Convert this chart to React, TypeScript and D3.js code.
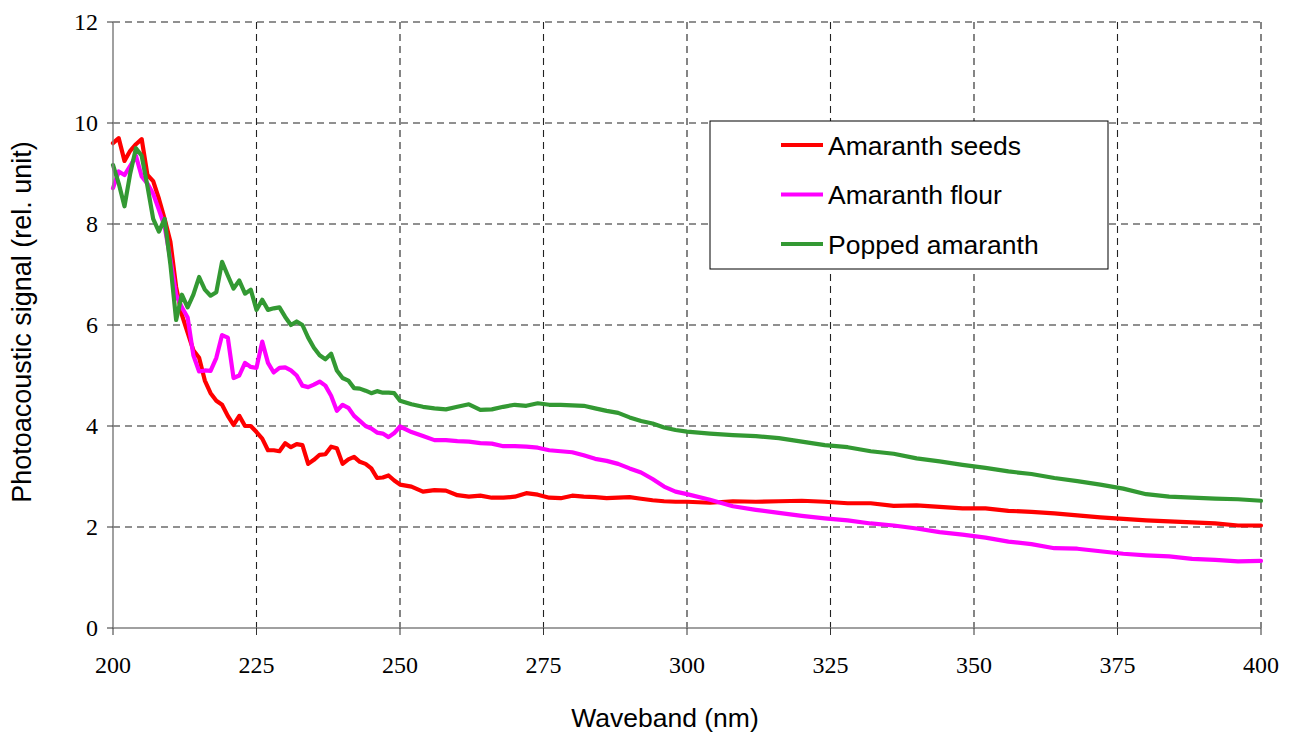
import React from "react";
import * as d3 from "d3";

// wavebands (nm): 1 nm steps to 250, 2 nm to 300, 4 nm to 400
const waveband = [
  ...d3.range(200, 251, 1),
  ...d3.range(252, 301, 2),
  ...d3.range(304, 401, 4),
];

const seeds = [
  9.6, 9.7, 9.25, 9.45, 9.58, 9.68, 8.97, 8.85, 8.5, 8.1,
  7.65, 6.75, 6.2, 5.85, 5.5, 5.35, 4.9, 4.65, 4.5, 4.42,
  4.2, 4.02, 4.2, 4.0, 4.0, 3.88, 3.75, 3.52, 3.52, 3.5,
  3.66, 3.58, 3.64, 3.62, 3.25, 3.33, 3.43, 3.44, 3.59, 3.56,
  3.25, 3.34, 3.39, 3.29, 3.25, 3.16, 2.97, 2.98, 3.02, 2.92,
  2.84,
  2.8, 2.7, 2.73, 2.72, 2.63, 2.6, 2.62, 2.58, 2.58, 2.6,
  2.67, 2.64, 2.58, 2.57, 2.62, 2.6, 2.59, 2.57, 2.58, 2.59,
  2.56, 2.53, 2.51, 2.5, 2.5,
  2.48, 2.51, 2.5, 2.51, 2.52, 2.5, 2.47, 2.47, 2.42, 2.43,
  2.4, 2.37, 2.37, 2.32, 2.3, 2.27, 2.23, 2.19, 2.16, 2.13,
  2.11, 2.09, 2.07, 2.03, 2.03,
];

const flour = [
  8.71, 9.04, 8.97, 9.15, 9.35, 8.94, 8.8, 8.6, 8.28, 7.95,
  7.3, 6.6, 6.35, 6.15, 5.4, 5.08, 5.1, 5.09, 5.35, 5.8,
  5.75, 4.95, 5.0, 5.25, 5.17, 5.15, 5.67, 5.25, 5.06, 5.15,
  5.16, 5.1, 5.0, 4.8, 4.77, 4.82, 4.88, 4.8, 4.6, 4.3,
  4.42, 4.36, 4.2, 4.1, 4.0, 3.95, 3.87, 3.85, 3.78, 3.86,
  3.99,
  3.88, 3.8, 3.72, 3.72, 3.7, 3.69, 3.66, 3.65, 3.6, 3.6,
  3.59, 3.57, 3.52, 3.5, 3.48, 3.42, 3.35, 3.31, 3.25, 3.16,
  3.08, 2.95, 2.8, 2.7, 2.65,
  2.54, 2.41, 2.34, 2.28, 2.22, 2.17, 2.13, 2.07, 2.03, 1.97,
  1.9, 1.85, 1.79, 1.71, 1.66, 1.58, 1.57, 1.52, 1.47, 1.44,
  1.42, 1.37, 1.35, 1.32, 1.33,
];

const popped = [
  9.17, 8.8, 8.35, 9.0, 9.5, 9.35, 8.75, 8.1, 7.85, 8.1,
  7.2, 6.1, 6.6, 6.35, 6.6, 6.95, 6.7, 6.58, 6.65, 7.25,
  6.98, 6.72, 6.88, 6.62, 6.7, 6.3, 6.5, 6.3, 6.33, 6.35,
  6.16, 6.0, 6.07, 6.0, 5.75, 5.55, 5.4, 5.32, 5.43, 5.1,
  4.95, 4.9, 4.75, 4.74, 4.7, 4.65, 4.69, 4.66, 4.66, 4.65,
  4.5,
  4.43, 4.38, 4.35, 4.33, 4.38, 4.43, 4.32, 4.33, 4.38, 4.42,
  4.4, 4.45, 4.42, 4.42, 4.41, 4.4, 4.35, 4.3, 4.26, 4.17,
  4.1, 4.05, 3.97, 3.92, 3.89,
  3.85, 3.82, 3.8, 3.76, 3.69, 3.62, 3.58, 3.5, 3.45, 3.36,
  3.3, 3.23, 3.17, 3.1, 3.05, 2.97, 2.91, 2.84, 2.76, 2.65,
  2.6, 2.58, 2.56, 2.55, 2.52,
];

const seriesNames = ["Amaranth seeds", "Amaranth flour", "Popped amaranth"];
const seriesColors = ["#ff0000", "#ff00ff", "#339933"];
const xTicks = [200, 225, 250, 275, 300, 325, 350, 375, 400];
const yTicks = [0, 2, 4, 6, 8, 10, 12];

const W = 1289;
const H = 733;
const margin = { top: 22, right: 28, bottom: 105, left: 113 };

const sans = "'Liberation Sans', Arial, sans-serif";
const serif = "'Liberation Serif', 'Times New Roman', serif";

const App = () => {
  const x = d3.scaleLinear().domain([200, 400]).range([margin.left, W - margin.right]);
  const y = d3.scaleLinear().domain([0, 12]).range([H - margin.bottom, margin.top]);

  const line = d3
    .line<number>()
    .x((_, i) => x(waveband[i]))
    .y((d) => y(d));

  const allSeries = [seeds, flour, popped];
  const x0 = x(200);
  const x1 = x(400);
  const y0 = y(0);
  const y1 = y(12);

  return (
    <svg width={W} height={H} style={{ position: "absolute", left: 0, top: 0 }}>
      <rect width={W} height={H} fill="white" />

      {/* grid */}
      {yTicks.filter((t) => t > 0).map((t) => (
        <line key={"gy" + t} x1={x0} x2={x1} y1={y(t)} y2={y(t)}
          stroke="#222" strokeWidth={1.1} strokeDasharray="7,5" />
      ))}
      {xTicks.filter((t) => t > 200).map((t) => (
        <line key={"gx" + t} x1={x(t)} x2={x(t)} y1={y1} y2={y0}
          stroke="#222" strokeWidth={1.1} strokeDasharray="7,5" />
      ))}

      {/* series */}
      {allSeries.map((s, i) => (
        <path key={i} d={line(s) || ""} fill="none" stroke={seriesColors[i]}
          strokeWidth={4.2} strokeLinejoin="round" strokeLinecap="round" />
      ))}

      {/* axes */}
      <line x1={x0} x2={x0} y1={y1} y2={y0} stroke="#808080" strokeWidth={1.5} />
      <line x1={x0} x2={x1} y1={y0} y2={y0} stroke="#808080" strokeWidth={1.5} />
      {yTicks.map((t) => (
        <g key={"ty" + t}>
          <line x1={x0 - 6} x2={x0} y1={y(t)} y2={y(t)} stroke="#333" strokeWidth={1} />
          <text x={x0 - 15} y={y(t)} dy="0.34em" textAnchor="end"
            fontFamily={serif} fontSize={24} fill="#000">{t}</text>
        </g>
      ))}
      {xTicks.map((t) => (
        <g key={"tx" + t}>
          <line x1={x(t)} x2={x(t)} y1={y0} y2={y0 + 7} stroke="#333" strokeWidth={1} />
          <text x={x(t)} y={673} textAnchor="middle"
            fontFamily={serif} fontSize={24} fill="#000">{t}</text>
        </g>
      ))}

      {/* axis titles */}
      <text x={665} y={727} textAnchor="middle" fontFamily={sans} fontSize={26.5} fill="#000">
        Waveband (nm)
      </text>
      <text transform={`translate(31, 322) rotate(-90)`} textAnchor="middle"
        fontFamily={sans} fontSize={27} fill="#000">
        Photoacoustic signal (rel. unit)
      </text>

      {/* legend */}
      <g transform="translate(710, 121)">
        <rect width={398} height={148} fill="white" stroke="#000" strokeWidth={1} />
        {seriesNames.map((n, i) => (
          <g key={n} transform={`translate(0, ${24 + i * 49.5})`}>
            <line x1={71} x2={113} y1={0} y2={0} stroke={seriesColors[i]} strokeWidth={4} />
            <text x={118} y={0} dy="0.36em" fontFamily={sans} fontSize={26.5} fill="#000">{n}</text>
          </g>
        ))}
      </g>
    </svg>
  );
};

export default App;
